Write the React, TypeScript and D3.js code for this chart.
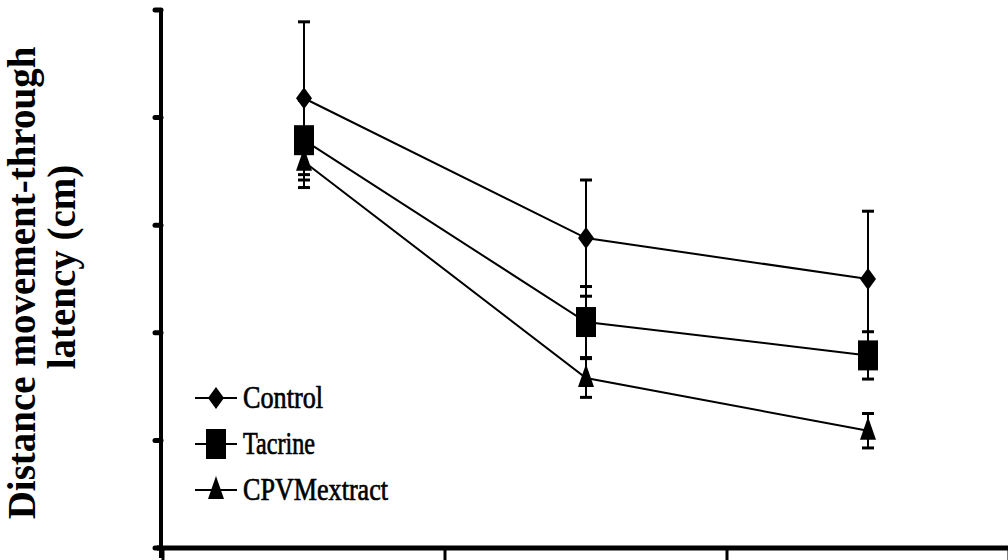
import React from "react";
import * as d3 from "d3";

const categories = ["Day 1", "Day 2", "Day 3"];
const seriesNames = ["Control", "Tacrine", "CPVMextract"];
const controlMean = [4.18, 2.88, 2.5];
const controlErr = [0.71, 0.54, 0.63];
const tacrineMean = [3.79, 2.1, 1.79];
const tacrineErr = [0.37, 0.33, 0.22];
const cpvMean = [3.59, 1.58, 1.09];
const cpvErr = [0.24, 0.18, 0.16];
const yTicks = [0, 1, 2, 3, 4, 5];
const xTicks = [0, 1, 2, 3];

const W = 1008;
const H = 560;
const SERIF = "'Liberation Serif', 'Times New Roman', serif";

function Marker({ kind, x, y }: { kind: number; x: number; y: number }) {
  if (kind === 0) {
    return <path d={`M${x},${y - 11} L${x + 8},${y} L${x},${y + 11} L${x - 8},${y} Z`} fill="#000" />;
  }
  if (kind === 1) {
    return <rect x={x - 10} y={y - 15} width={20} height={30} fill="#000" />;
  }
  return <path d={`M${x},${y - 14} L${x + 8},${y + 9} L${x - 8},${y + 9} Z`} fill="#000" />;
}

export default function App() {
  const x = d3.scaleLinear().domain([0, 3]).range([163, 1009]);
  const y = d3.scaleLinear().domain([0, 5]).range([548, 10]);
  const series = [
    { name: seriesNames[0], mean: controlMean, err: controlErr },
    { name: seriesNames[1], mean: tacrineMean, err: tacrineErr },
    { name: seriesNames[2], mean: cpvMean, err: cpvErr },
  ];
  const line = d3
    .line<number>()
    .x((_, i) => x(i + 0.5))
    .y((d) => y(d));

  const legendY = [398, 444, 490];
  const legendW = [80, 72, 145];

  return (
    <svg width={W} height={H} style={{ position: "absolute", left: 0, top: 0, background: "#fff" }}>
      <rect width={W} height={H} fill="#fff" />
      {/* y-axis title */}
      <text
        transform="translate(35,283) rotate(-90)"
        textAnchor="middle"
        style={{ fontFamily: SERIF }}
        fontWeight="bold"
        fontSize={39}
      >
        Distance movement-through
      </text>
      <text
        transform="translate(75,267) rotate(-90)"
        textAnchor="middle"
        style={{ fontFamily: SERIF }}
        fontWeight="bold"
        fontSize={39}
      >
        latency (cm)
      </text>
      {/* axes */}
      <line x1={161} x2={161} y1={y(5) - 2} y2={y(0) + 10} stroke="#000" strokeWidth={4} />
      <line x1={157} x2={W} y1={548} y2={548} stroke="#000" strokeWidth={5} />
      {yTicks.map((t) => (
        <line key={t} x1={155} x2={161} y1={y(t)} y2={y(t)} stroke="#000" strokeWidth={5} strokeLinecap="round" />
      ))}
      {xTicks.map((t) => (
        <line key={t} x1={x(t)} x2={x(t)} y1={548} y2={560} stroke="#000" strokeWidth={3} />
      ))}
      {/* lines */}
      {series.map((s, k) => (
        <path key={k} d={line(s.mean) || ""} fill="none" stroke="#000" strokeWidth={2} />
      ))}
      {/* error bars */}
      {series.map((s, k) =>
        s.mean.map((m, i) => {
          const cx = x(i + 0.5);
          return (
            <g key={`${k}-${i}`}>
              <line x1={cx} x2={cx} y1={y(m + s.err[i])} y2={y(m - s.err[i])} stroke="#000" strokeWidth={2} />
              <line x1={cx - 6} x2={cx + 6} y1={y(m + s.err[i])} y2={y(m + s.err[i])} stroke="#000" strokeWidth={3} />
              <line x1={cx - 6} x2={cx + 6} y1={y(m - s.err[i])} y2={y(m - s.err[i])} stroke="#000" strokeWidth={3} />
            </g>
          );
        })
      )}
      {/* markers */}
      {series.map((s, k) =>
        s.mean.map((m, i) => <Marker key={`m${k}-${i}`} kind={k} x={x(i + 0.5)} y={y(m)} />)
      )}
      {/* legend */}
      {series.map((s, k) => (
        <g key={`l${k}`}>
          <line x1={195} x2={237} y1={legendY[k]} y2={legendY[k]} stroke="#000" strokeWidth={2} />
          <Marker kind={k} x={216} y={legendY[k]} />
          <text
            x={243}
            y={legendY[k] + 10}
            style={{ fontFamily: SERIF }}
            fontSize={32}
            stroke="#000"
            strokeWidth={0.7}
            textLength={legendW[k]}
            lengthAdjust="spacingAndGlyphs"
          >
            {s.name}
          </text>
        </g>
      ))}
    </svg>
  );
}
